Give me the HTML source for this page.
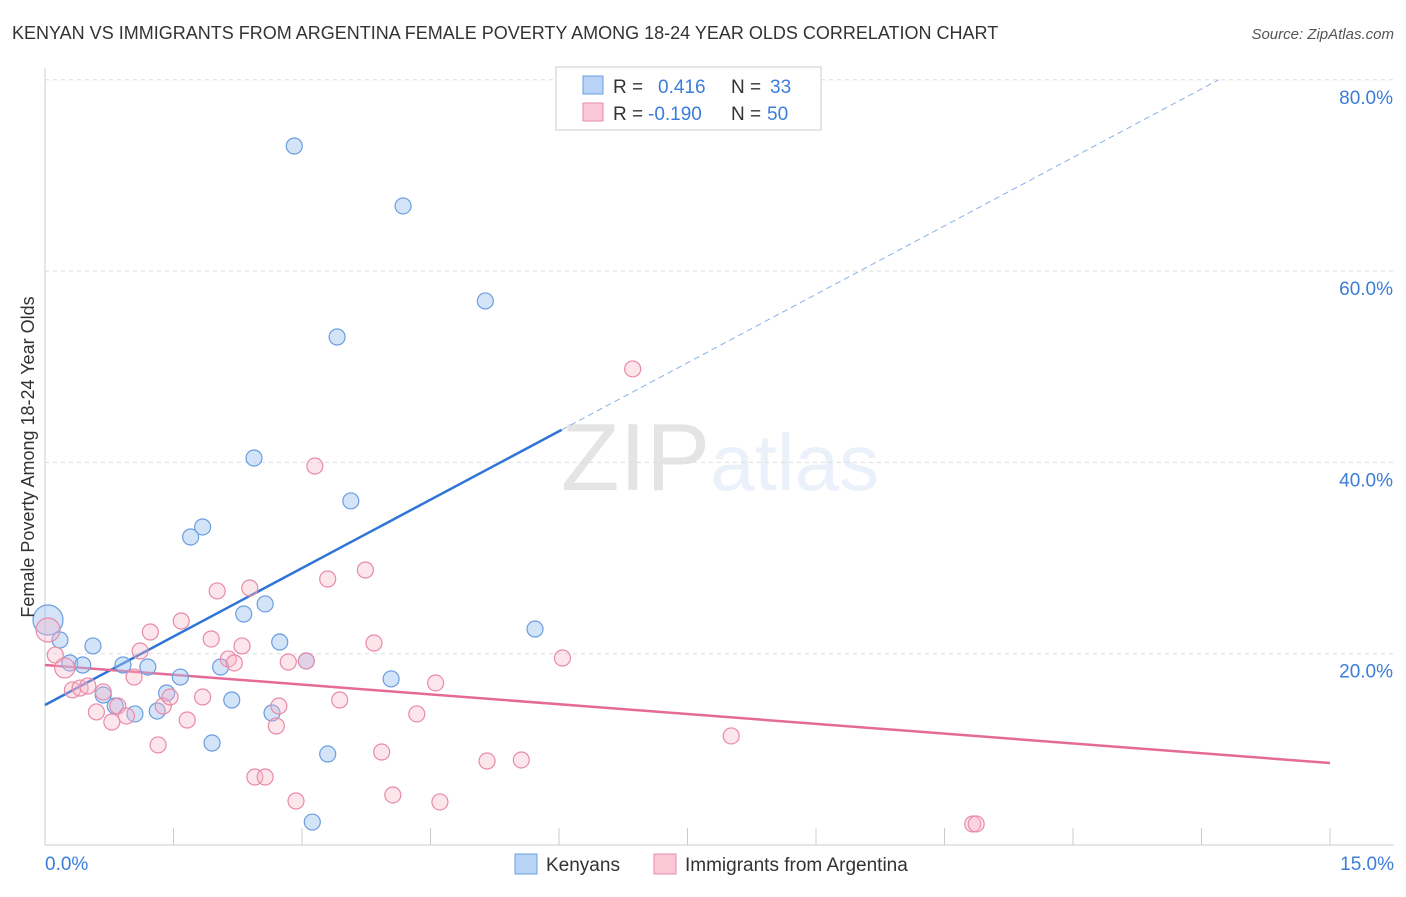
<!DOCTYPE html>
<html><head><meta charset="utf-8"><style>
body{margin:0;background:#fff;font-family:"Liberation Sans",sans-serif}
svg text{font-family:"Liberation Sans",sans-serif}
</style></head><body>
<svg id="chart" width="1406" height="892" xmlns="http://www.w3.org/2000/svg">
<text x="12" y="39" font-size="18" fill="#333">KENYAN VS IMMIGRANTS FROM ARGENTINA FEMALE POVERTY AMONG 18-24 YEAR OLDS CORRELATION CHART</text>
<text x="1394" y="39" font-size="15" fill="#555" text-anchor="end" font-style="italic">Source: ZipAtlas.com</text>
<text x="720" y="490" font-size="96" text-anchor="middle" fill="#000" opacity="0.1" font-family="Liberation Serif">ZIP<tspan fill="#3b7dd8" opacity="1" font-family="Liberation Sans" font-size="80">atlas</tspan></text>
<g id="grid"></g>
<g id="axes"></g>
<g id="trend"></g>
<g id="pts"></g>
<text transform="translate(34,457) rotate(-90)" font-size="18" fill="#333" text-anchor="middle">Female Poverty Among 18-24 Year Olds</text>
<g>
<rect x="556" y="67" width="265" height="63" fill="#fff" stroke="#ccc"/>
<rect x="583" y="76" width="20" height="18" fill="#b8d3f5" stroke="#6a9de0"/>
<rect x="583" y="103" width="20" height="18" fill="#fbc6d6" stroke="#e88aa8"/>
<text x="613" y="93" font-size="19" fill="#333">R =</text>
<text x="658" y="93" font-size="19" fill="#3b7dd8">0.416</text>
<text x="731" y="93" font-size="19" fill="#333">N =</text>
<text x="770" y="93" font-size="19" fill="#3b7dd8">33</text>
<text x="613" y="120" font-size="19" fill="#333">R =</text>
<text x="648" y="120" font-size="19" fill="#3b7dd8">-0.190</text>
<text x="731" y="120" font-size="19" fill="#333">N =</text>
<text x="767" y="120" font-size="19" fill="#3b7dd8">50</text>
</g>
<g>
<rect x="515" y="854" width="22" height="20" fill="#b8d3f5" stroke="#6a9de0"/>
<text x="546" y="871" font-size="19" fill="#333">Kenyans</text>
<rect x="654" y="854" width="22" height="20" fill="#fbc6d6" stroke="#e88aa8"/>
<text x="685" y="871" font-size="19" fill="#333">Immigrants from Argentina</text>
</g>
</svg>
<script>
const blueX=[.035,.175,.29,.56,.44,.68,.82,.91,1.05,1.20,1.31,1.42,1.58,1.84,1.70,1.95,2.05,2.18,2.32,2.44,2.57,2.65,2.74,2.91,3.05,3.12,3.30,3.41,3.57,4.04,4.18,5.14,5.72];
const blueY=[23.52,21.43,19.03,20.81,18.82,15.68,14.53,18.82,13.70,18.61,14.01,15.89,17.56,33.25,32.20,10.66,18.61,15.16,24.15,40.46,25.20,13.80,21.22,73.08,19.24,2.40,9.51,53.11,35.97,17.36,66.81,56.88,22.58];
const pinkX=[.035,.12,.23,.32,.41,.50,.60,.68,.78,.85,.95,1.04,1.11,1.23,1.32,1.38,1.46,1.59,1.66,1.84,1.94,2.01,2.14,2.21,2.30,2.39,2.45,2.57,2.70,2.73,2.84,2.93,3.05,3.15,3.30,3.44,3.74,3.84,3.93,4.06,4.34,4.56,4.61,5.16,5.56,6.04,6.86,8.01,10.83,10.87];
const pinkY=[22.48,19.86,18.51,16.21,16.41,16.62,13.91,16.00,12.86,14.53,13.49,17.56,20.28,22.27,10.46,14.53,15.47,23.42,13.07,15.47,21.54,26.56,19.45,19.03,20.81,26.87,7.11,7.11,12.44,14.53,19.13,4.60,19.24,39.62,27.81,15.16,28.75,21.12,9.72,5.23,13.70,16.94,4.50,8.78,8.89,19.55,49.77,11.40,2.20,2.20];
const yTicks=[20,40,60,80];
const xTickLabels=["0.0%","15.0%"];
const blueTrend=[0,14.64,6.03,43.4,13.7,80];
const pinkTrend=[0,18.82,15,8.57];
const sx=v=>45+v/15*1285, sy=v=>845-v/20*191.3;
const NS="http://www.w3.org/2000/svg";
function mk(p,t,a){const e=document.createElementNS(NS,t);for(const k in a)e.setAttribute(k,a[k]);p.appendChild(e);return e;}
const grid=document.getElementById('grid'),axes=document.getElementById('axes');
yTicks.forEach(v=>{const l=mk(grid,'line',{x1:45,x2:1394,y1:sy(v),y2:sy(v),stroke:'#ddd','stroke-dasharray':'4,4'});

const t=mk(axes,'text',{x:1393,y:sy(v)+24,'font-size':19,fill:'#3b7dd8','text-anchor':'end'});t.textContent=v.toFixed(1)+'%';
});
mk(axes,'line',{x1:45,x2:45,y1:68,y2:845,stroke:'#ccc'});
mk(axes,'line',{x1:45,x2:1394,y1:845,y2:845,stroke:'#ccc'});
for(let i=0;i<=10;i++){const x=sx(i*1.5);const l=mk(axes,'line',{x1:x,x2:x,y1:828,y2:845,stroke:'#ccc'});}
let t1=mk(axes,'text',{x:45,y:870,'font-size':19,fill:'#3b7dd8'});t1.textContent=xTickLabels[0];

let t2=mk(axes,'text',{x:1394,y:870,'font-size':19,fill:'#3b7dd8','text-anchor':'end'});t2.textContent=xTickLabels[1];

const pts=document.getElementById('pts');
blueX.forEach((x,i)=>{const c=mk(pts,'circle',{cx:sx(x),cy:sy(blueY[i]),r:i==0?15:8,fill:'rgba(160,196,240,0.45)',stroke:'#6a9de0','stroke-width':1.2});
});
pinkX.forEach((x,i)=>{const c=mk(pts,'circle',{cx:sx(x),cy:sy(pinkY[i]),r:i==0?12:(i==2?10:8),fill:'rgba(248,180,200,0.35)',stroke:'#e88aa8','stroke-width':1.2});
});
const tr=document.getElementById('trend');
let b1=mk(tr,'line',{x1:sx(blueTrend[0]),y1:sy(blueTrend[1]),x2:sx(blueTrend[2]),y2:sy(blueTrend[3]),stroke:'#2f74d6','stroke-width':2.5});

let b2=mk(tr,'line',{x1:sx(blueTrend[2]),y1:sy(blueTrend[3]),x2:sx(blueTrend[4]),y2:sy(blueTrend[5]),stroke:'#8ab0e6','stroke-width':1,'stroke-dasharray':'6,4'});

let p1=mk(tr,'line',{x1:sx(pinkTrend[0]),y1:sy(pinkTrend[1]),x2:sx(pinkTrend[2]),y2:sy(pinkTrend[3]),stroke:'#e56b96','stroke-width':2.5});

</script>
</body></html>
